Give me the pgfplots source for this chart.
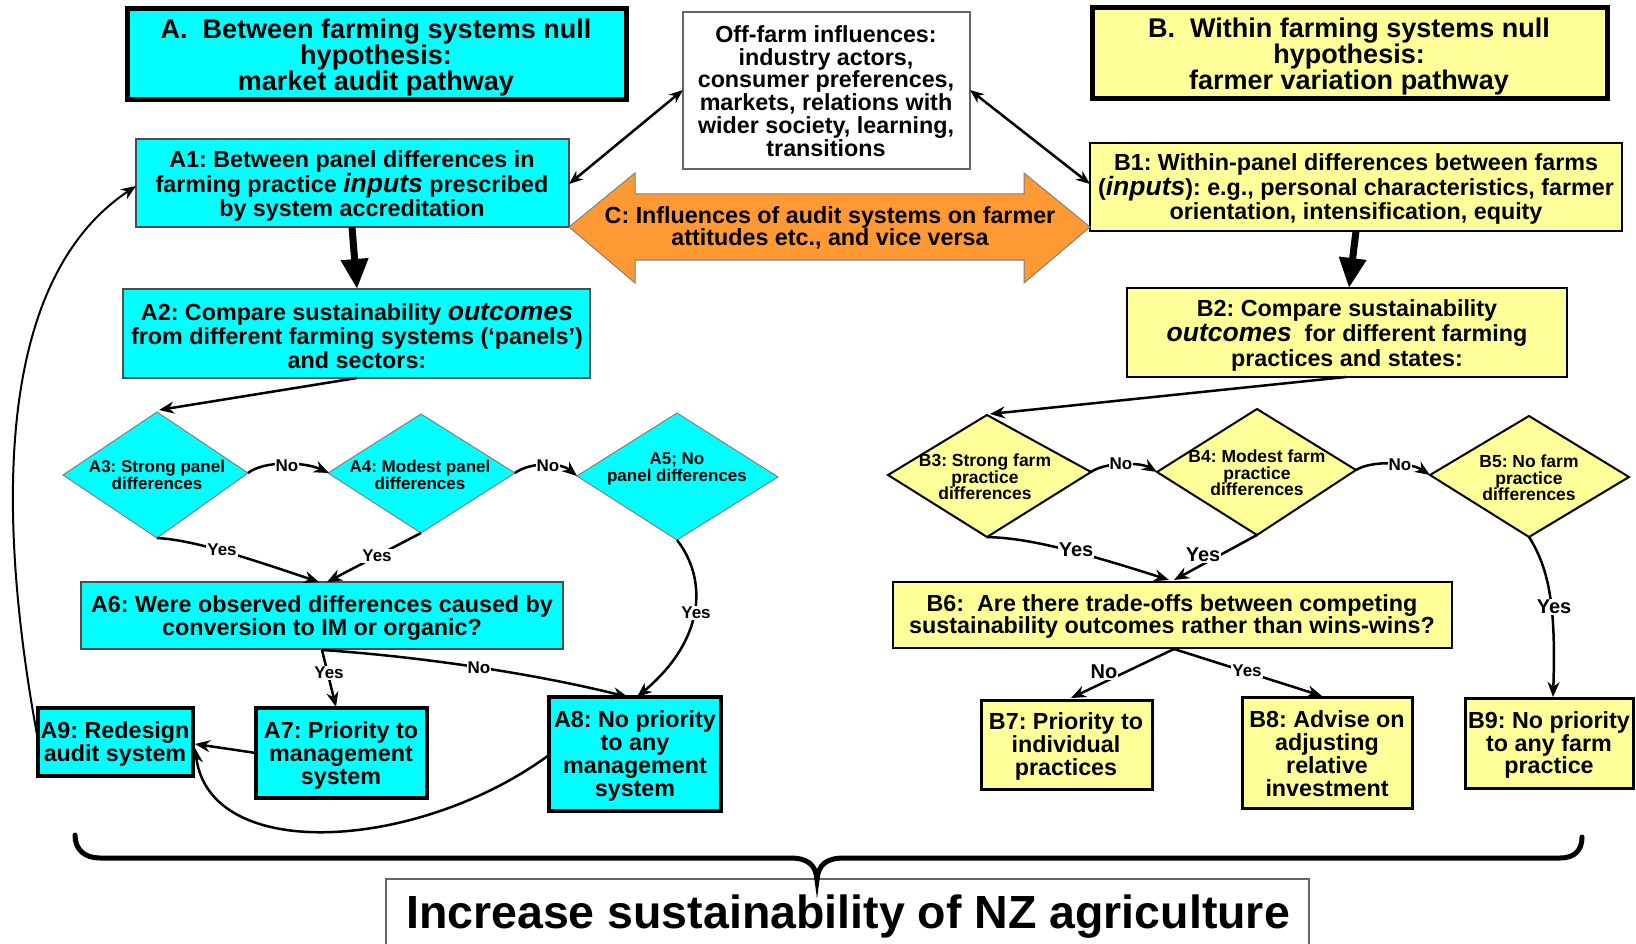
\documentclass[border=0pt]{standalone}
\usepackage{pgfplots}
\pgfplotsset{compat=1.18}
\usepackage{fontspec}
\setmainfont{Liberation Sans}
\usetikzlibrary{arrows.meta}
\frenchspacing

\definecolor{acyan}{RGB}{0,255,255}
\definecolor{byel}{RGB}{255,255,153}
\definecolor{corange}{RGB}{255,153,51}

% one axis unit = one pixel of the reference = 1pt
\newcommand{\fs}[2]{\fontsize{#1}{#2}\selectfont\bfseries}
\newcommand{\bi}[1]{{\fontsize{26.5}{24.5}\selectfont\itshape #1}}

\begin{document}
\begin{tikzpicture}[
    arr/.style={line width=2.5pt, -{Stealth[length=15pt,width=12pt]}},
    big/.style={line width=7pt, -{Triangle[length=30pt,width=26pt]}},
    lab/.style={font=\fs{17}{17}, fill=white, inner sep=1pt},
    labB/.style={font=\fs{20}{20}, fill=white, inner sep=1pt},
    txt/.style={font=\fs{23.3}{24}, align=center, yshift=-2pt},
    dtxt/.style={font=\fs{17}{17.5}, align=center},
  ]
\begin{axis}[
    name=ax,
    width=1636pt, height=944pt, scale only axis,
    xmin=0, xmax=1636, ymin=0, ymax=944,
    y dir=reverse,
    hide axis,
    clip=false,
  ]

% header boxes
\draw[fill=acyan, line width=5pt] (127,9) rectangle (626,100);
\node[font=\fs{27}{26}, align=center] at (376,58) {A.\ \ Between farming systems null\\hypothesis:\\market audit pathway};
\draw[fill=byel, line width=5pt] (1092,8) rectangle (1607,99);
\node[font=\fs{27}{26}, align=center] at (1349,57) {B.\ \ Within farming systems null\\hypothesis:\\farmer variation pathway};

% off-farm influences
\draw[fill=white, draw=black!60, line width=1.2pt] (683,12) rectangle (970,169);
\node[font=\fs{23.3}{22.8}, align=center] at (826,91) {Off-farm influences:\\industry actors,\\consumer preferences,\\markets, relations with\\wider society, learning,\\transitions};

% A1, B1
\draw[fill=acyan, draw=black!70, line width=1.5pt] (136,139) rectangle (569,227);
\node[txt] at (352,184) {A1: Between panel differences in\\farming practice \bi{inputs} prescribed\\by system accreditation};
\draw[fill=byel, line width=2.5pt] (1090,143) rectangle (1622,231);
\node[txt] at (1356,187) {B1: Within-panel differences between farms\\(\bi{inputs}): e.g., personal characteristics, farmer\\orientation, intensification, equity};

% C double arrow
\draw[fill=corange, draw=black!50, line width=1pt] (569,227) -- (635,173) -- (635,194) -- (1024,194) -- (1024,173) -- (1090,227) -- (1024,283) -- (1024,260) -- (635,260) -- (635,283) -- cycle;
\node[font=\fs{23.3}{22}, align=center] at (830,228) {C: Influences of audit systems on farmer\\attitudes etc., and vice versa};

\draw[line width=2.5pt, {Stealth[length=14pt,width=11pt]}-{Stealth[length=14pt,width=11pt]}] (683,90) -- (569,184);
\draw[line width=2.5pt, {Stealth[length=14pt,width=11pt]}-{Stealth[length=14pt,width=11pt]}] (970,90) -- (1090,184);

% A2, B2
\draw[fill=acyan, draw=black!70, line width=1.5pt] (123,289) rectangle (590,378);
\node[txt] at (357,334) {A2: Compare sustainability \bi{outcomes}\\from different farming systems (‘panels’)\\and sectors:};
\draw[fill=byel, line width=2.5pt] (1127,288) rectangle (1567,377);
\node[font=\fs{23.3}{25}, align=center] at (1347,335) {B2: Compare sustainability\\\bi{outcomes}\ \ for different farming\\practices and states:};

\draw[big] (352,227) -- (357,289);
\draw[big] (1356,231) -- (1349,288);
\draw[arr] (357,378) -- (159,410);
\draw[arr] (1346,377) -- (990,414);

% diamonds A
\draw[fill=acyan, draw=black!50, line width=1pt] (63,475) -- (157,412) -- (248,473) -- (157,538) -- cycle;
\draw[fill=acyan, draw=black!50, line width=1pt] (328,473) -- (421,414) -- (515,473) -- (421,533) -- cycle;
\draw[fill=acyan, draw=black!50, line width=1pt] (577,476) -- (677,413) -- (778,477) -- (677,540) -- cycle;
\node[dtxt] at (157,475) {A3: Strong panel\\differences};
\node[dtxt] at (420,475) {A4: Modest panel\\differences};
\node[dtxt] at (677,469) {A5; No\\panel differences};

% diamonds B
\draw[fill=byel, line width=2pt] (888,475) -- (987,415) -- (1091,472) -- (987,537) -- cycle;
\draw[fill=byel, line width=2pt] (1157,472) -- (1257,409) -- (1356,470) -- (1257,535) -- cycle;
\draw[fill=byel, line width=2pt] (1430,475) -- (1529,416) -- (1629,477) -- (1529,537) -- cycle;
\node[font=\fs{17.5}{16.5}, align=center] at (985,477) {B3: Strong farm\\practice\\differences};
\node[font=\fs{17.5}{16.5}, align=center] at (1257,473) {B4: Modest farm\\practice\\differences};
\node[font=\fs{17.5}{16.5}, align=center] at (1529,478) {B5: No farm\\practice\\differences};

% A6, B6
\draw[fill=acyan, draw=black!70, line width=1.5pt] (81,582) rectangle (563,649);
\node[font=\fs{23.3}{23}, align=center] at (322,618) {A6: Were observed differences caused by\\conversion to IM or organic?};
\draw[fill=byel, line width=2.5pt] (893,582) rectangle (1452,648);
\node[font=\fs{23.3}{22}, align=center] at (1172,616) {B6:\ \ Are there trade-offs between competing\\sustainability outcomes rather than wins-wins?};

% outcome boxes A
\draw[fill=acyan, line width=3.5pt] (38,708) rectangle (193,776);
\node[font=\fs{23.3}{23}, align=center] at (115,744) {A9: Redesign\\audit system};
\draw[fill=acyan, line width=3.5pt] (256,708) rectangle (427,798);
\node[font=\fs{23.3}{23}, align=center] at (341,755) {A7: Priority to\\management\\system};
\draw[fill=acyan, line width=3.5pt] (549,697) rectangle (721,811);
\node[font=\fs{23.3}{23}, align=center] at (635,756) {A8: No priority\\to any\\management\\system};

% outcome boxes B
\draw[fill=byel, line width=3pt] (981,700) rectangle (1152,789);
\node[font=\fs{23.3}{23}, align=center] at (1066,746) {B7: Priority to\\individual\\practices};
\draw[fill=byel, line width=3pt] (1242,697) rectangle (1412,808);
\node[font=\fs{23.3}{23}, align=center] at (1327,754) {B8: Advise on\\adjusting\\relative\\investment};
\draw[fill=byel, line width=3pt] (1465,698) rectangle (1633,788);
\node[font=\fs{23.3}{22.5}, align=center] at (1549,745) {B9: No priority\\to any farm\\practice};

% decision arrows A
\draw[arr] (248,473) .. controls (265,460) and (305,462) .. (329,473);
\node[lab] at (287,466) {No};
\draw[arr] (515,473) .. controls (530,462) and (560,462) .. (577,476);
\node[lab] at (548,466) {No};
\draw[arr] (157,538) .. controls (190,540) and (230,552) .. (319,582);
\node[lab] at (222,550) {Yes};
\draw[arr] (421,533) -- (327,582);
\node[lab] at (377,556) {Yes};
\draw[arr] (677,540) .. controls (708,580) and (705,640) .. (637,697);
\node[lab] at (696,613) {Yes};
\draw[arr] (322,650) -- (336,707);
\node[lab] at (329,673) {Yes};
\draw[arr] (322,650) .. controls (400,655) and (520,670) .. (628,697);
\node[lab] at (479,668) {No};
\draw[arr] (256,753) -- (195,744);
\draw[arr] (549,755) .. controls (420,850) and (210,865) .. (195,748);
\draw[line width=2pt, -{Stealth[length=15pt,width=12pt]}] (38,740) .. controls (-12,470) and (10,270) .. (136,186);

% decision arrows B
\draw[arr] (1091,472) .. controls (1105,462) and (1140,462) .. (1157,472);
\node[lab] at (1121,464) {No};
\draw[arr] (1356,470) .. controls (1372,460) and (1410,462) .. (1430,475);
\node[lab] at (1400,465) {No};
\draw[arr] (987,537) .. controls (1020,538) and (1060,545) .. (1169,580);
\node[labB] at (1076,550) {Yes};
\draw[arr] (1257,535) -- (1174,580);
\node[labB] at (1203,555) {Yes};
\draw[arr] (1529,537) .. controls (1550,570) and (1556,610) .. (1553,697);
\node[labB] at (1554,607) {Yes};
\draw[arr] (1174,649) -- (1071,698);
\node[labB] at (1104,672) {No};
\draw[arr] (1174,649) -- (1322,696);
\node[lab] at (1247,671) {Yes};

% goal box and brace
\fill[white] (386,879) rectangle (1309,944);
\draw[black!60, line width=1.2pt] (386,944) -- (386,879) -- (1309,879) -- (1309,944);
\node[font=\fs{46.5}{46}] at (848,917) {Increase sustainability of NZ agriculture};
\draw[line width=5pt, line cap=round] (75,835) .. controls (75,850) and (85,858) .. (100,858) -- (790,858) .. controls (808,858) and (816,865) .. (817,880) .. controls (818,865) and (826,858) .. (844,858) -- (1560,858) .. controls (1575,858) and (1582,850) .. (1582,837);

\end{axis}
\pgfresetboundingbox
\path (ax.south west) rectangle (ax.north east);
\end{tikzpicture}
\end{document}
